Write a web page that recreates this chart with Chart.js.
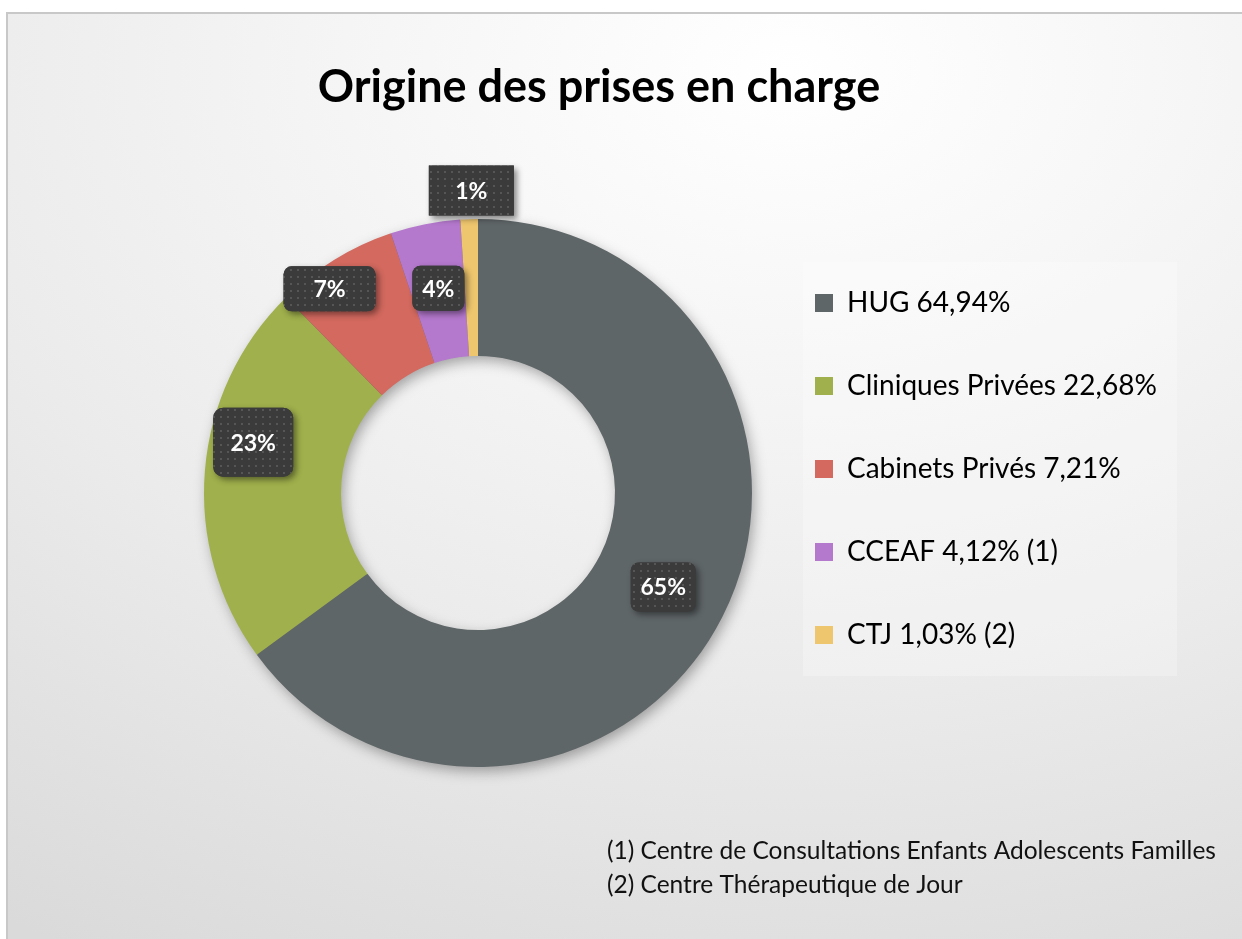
<!DOCTYPE html>
<html>
<head>
<meta charset="utf-8">
<script src="https://cdn.jsdelivr.net/npm/chart.js@4.4.1/dist/chart.umd.min.js"></script>
<style>
  html, body { margin: 0; padding: 0; background: #fff; }
  body { width: 1242px; height: 939px; overflow: hidden; position: relative; }
  #frame {
    position: absolute; left: 6px; top: 12px; width: 1260px; height: 960px;
    border-left: 2px solid #c8c8c8; border-top: 2px solid #c8c8c8;
    background: radial-gradient(ellipse 115% 105% at 62% 6%, #ffffff 0%, #f7f7f7 25%, #ebebeb 60%, #dadada 100%);
  }
  #chart { position: absolute; left: 0; top: 0; }
</style>
</head>
<body>
<div id="frame"></div>
<canvas id="chart" width="1242" height="939"></canvas>
<script>
const categories = ['HUG', 'Cliniques Privées', 'Cabinets Privés', 'CCEAF', 'CTJ'];
const shares = [64.94, 22.68, 7.21, 4.12, 1.03];
const notes = ['', '', '', '(1)', '(2)'];
const colors = ['#5f6668', '#a0b04c', '#d3695f', '#b478cd', '#eec66e'];
const footnotes = [
  '(1) Centre de Consultations Enfants Adolescents Familles',
  '(2) Centre Thérapeutique de Jour'
];

const fmt = (v) => v.toFixed(2).replace('.', ',') + '%';

// ring shadow drawn under the arcs
const ringShadow = {
  id: 'ringShadow',
  beforeDatasetsDraw(chart) {
    const arc = chart.getDatasetMeta(0).data[0];
    if (!arc) return;
    const ctx = chart.ctx;
    ctx.save();
    ctx.shadowColor = 'rgba(0,0,0,0.35)';
    ctx.shadowBlur = 14;
    ctx.shadowOffsetX = 3;
    ctx.shadowOffsetY = 5;
    ctx.beginPath();
    ctx.arc(arc.x, arc.y, arc.outerRadius - 1, 0, Math.PI * 2);
    ctx.arc(arc.x, arc.y, arc.innerRadius + 1, 0, Math.PI * 2, true);
    ctx.fillStyle = colors[0];
    ctx.fill();
    ctx.restore();
  }
};

let dots = null;
const valueBoxes = {
  id: 'valueBoxes',
  afterDatasetsDraw(chart, args, opts) {
    const ctx = chart.ctx;
    if (!dots) {
      const c = document.createElement('canvas');
      c.width = 7; c.height = 7;
      const g = c.getContext('2d');
      g.fillStyle = '#3b3b3b';
      g.fillRect(0, 0, 7, 7);
      g.fillStyle = '#565656';
      g.fillRect(3, 3, 2, 2);
      dots = ctx.createPattern(c, 'repeat');
    }
    chart.getDatasetMeta(0).data.forEach((arc, i) => {
      const p = arc.tooltipPosition();
      const b = opts.boxes[i];
      const x = p.x + b.dx, y = p.y + b.dy;
      ctx.save();
      ctx.shadowColor = 'rgba(0,0,0,0.45)';
      ctx.shadowBlur = 6;
      ctx.shadowOffsetX = 3;
      ctx.shadowOffsetY = 3;
      ctx.beginPath();
      ctx.roundRect(x - b.w / 2, y - b.h / 2, b.w, b.h, b.r);
      ctx.fillStyle = '#3b3b3b';
      ctx.fill();
      ctx.shadowColor = 'transparent';
      ctx.fillStyle = dots;
      ctx.fill();
      ctx.fillStyle = '#ffffff';
      ctx.font = 'bold 23px Lato';
      ctx.textAlign = 'center';
      ctx.textBaseline = 'middle';
      ctx.fillText(Math.round(shares[i]) + '%', x, y + 1);
      ctx.restore();
    });
  }
};

// let the legend text run past the width reserved for it
const legendRoom = {
  id: 'legendRoom',
  afterLayout(chart) {
    const lg = chart.legend;
    if (!lg) return;
    lg.right = chart.width;
    lg.width = lg.right - lg.left;
  }
};

const extras = {
  id: 'extras',
  beforeDraw(chart, args, opts) {
    const ctx = chart.ctx;
    const r = opts.legendBg;
    ctx.save();
    ctx.fillStyle = 'rgba(255,255,255,0.25)';
    ctx.fillRect(r.x, r.y, r.w, r.h);
    ctx.restore();
  },
  afterDraw(chart, args, opts) {
    const ctx = chart.ctx;
    ctx.save();
    ctx.fillStyle = '#111111';
    ctx.font = '24.5px Lato';
    ctx.textAlign = 'left';
    ctx.textBaseline = 'middle';
    footnotes.forEach((t, i) => ctx.fillText(t, opts.noteX, opts.noteY + i * 34));
    ctx.restore();
  }
};

Chart.defaults.font.family = 'Lato';

new Chart(document.getElementById('chart'), {
  type: 'doughnut',
  data: {
    labels: categories,
    datasets: [{
      data: shares,
      backgroundColor: colors,
      borderWidth: 0,
      radius: 274,
      cutout: '50%',
      clip: false
    }]
  },
  options: {
    responsive: false,
    animation: false,
    layout: { padding: { left: 196, right: 240, top: 64.5, bottom: 65.5 } },
    plugins: {
      tooltip: { enabled: false },
      title: {
        display: true,
        text: 'Origine des prises en charge',
        color: '#000000',
        font: { size: 45, weight: 'bold', lineHeight: 1 },
        padding: { top: 0, bottom: 3 }
      },
      legend: {
        position: 'right',
        maxWidth: 242,
        labels: {
          color: '#404040',
          font: { size: 28 },
          boxWidth: 18,
          boxHeight: 18,
          padding: 55,
          generateLabels(chart) {
            return categories.map((c, i) => ({
              text: c + ' ' + fmt(shares[i]) + (notes[i] ? ' ' + notes[i] : ''),
              fillStyle: colors[i],
              strokeStyle: colors[i],
              lineWidth: 0,
              hidden: false,
              index: i
            }));
          }
        }
      },
      valueBoxes: {
        boxes: [
          { dx: 2, dy: 1, w: 65, h: 49, r: 8 },
          { dx: -20, dy: -34, w: 80, h: 69, r: 10 },
          { dx: -41, dy: -29, w: 92, h: 45, r: 8 },
          { dx: 0, dy: -3, w: 52, h: 45, r: 8 },
          { dx: 0, dy: -97, w: 85, h: 50, r: 0 }
        ]
      },
      extras: {
        legendBg: { x: 803, y: 262, w: 374, h: 414 },
        noteX: 607,
        noteY: 851
      }
    }
  },
  plugins: [legendRoom, ringShadow, valueBoxes, extras]
});
</script>
</body>
</html>
